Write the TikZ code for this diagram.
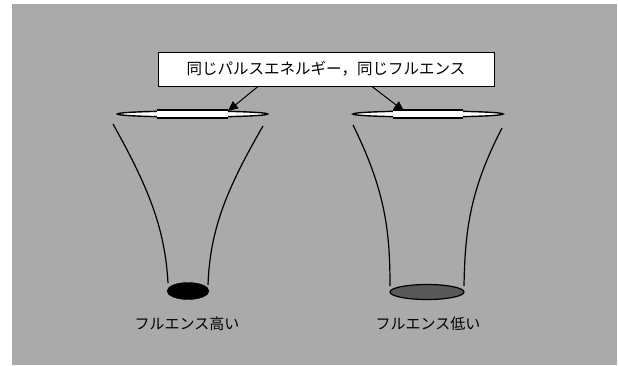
\documentclass[tikz,border=0pt]{standalone}
\usepackage{fontspec}
\newfontfamily\jpfont{Noto Sans CJK JP}
\usetikzlibrary{arrows.meta,shapes.geometric}
\definecolor{panel}{HTML}{AAAAAA}
\definecolor{spotgray}{HTML}{595959}
\tikzset{
  curve/.style={line width=1.2pt, black},
  lensrim/.style={ellipse, draw=black, fill=white, line width=1.4pt, inner sep=0pt},
  callout/.style={draw=black, fill=white, line width=1pt, inner sep=0pt,
    minimum width=336pt, minimum height=34pt, font=\jpfont\fontsize{15.5}{18}\selectfont},
  caption/.style={font=\jpfont\fontsize{15}{18}\selectfont, inner sep=0pt},
  pointer/.style={line width=1pt, -{Triangle[length=10pt,width=9pt]}},
}
\begin{document}
\begin{tikzpicture}[x=1pt,y=-1pt]
\useasboundingbox (0,0) rectangle (619,365);
\fill[white] (0,0) rectangle (619,365);
\fill[panel] (12,4) rectangle (617,365);

% label box
\node[callout] (box) at (326,69) {同じパルスエネルギー，同じフルエンス};

% lenses (thin discs seen edge-on)
\node[lensrim, minimum width=150pt, minimum height=6pt] (lensL) at (192.5,114) {};
\node[lensrim, minimum width=150pt, minimum height=6pt] (lensR) at (428,114) {};
\fill[white] (157,110) rectangle (228,118);
\draw[line width=1.2pt] (157,110) -- (228,110) (157,118) -- (228,118);
\fill[white] (393,110) rectangle (463,118);
\draw[line width=1.2pt] (393,110) -- (463,110) (393,118) -- (463,118);

% pointers from the box to the lenses
\coordinate (pL) at (228,111);
\coordinate (pR) at (404,111);
\draw[pointer] (box.south -| 258,0) -- (pL);
\draw[pointer] (box.south -| 372,0) -- (pR);

% converging beam, left
\draw[curve] (113,124) .. controls (150,190) and (165,230) .. (168,283);
\draw[curve] (263,126) .. controls (226,190) and (210,230) .. (208,285);
% converging beam, right
\draw[curve] (353,125) .. controls (385,190) and (390,230) .. (390,286);
\draw[curve] (502,128) .. controls (470,190) and (465,230) .. (464,286);

% focal spots
\node[ellipse, fill=black, draw=black, minimum width=42pt, minimum height=17pt, inner sep=0pt] (spotL) at (188,291) {};
\node[ellipse, fill=spotgray, draw=black, line width=1.2pt, minimum width=74pt, minimum height=15pt, inner sep=0pt] (spotR) at (427,292) {};

% captions
\node[caption] (capL) at (187,324) {フルエンス高い};
\node[caption] (capR) at (428,324) {フルエンス低い};
\end{tikzpicture}
\end{document}
